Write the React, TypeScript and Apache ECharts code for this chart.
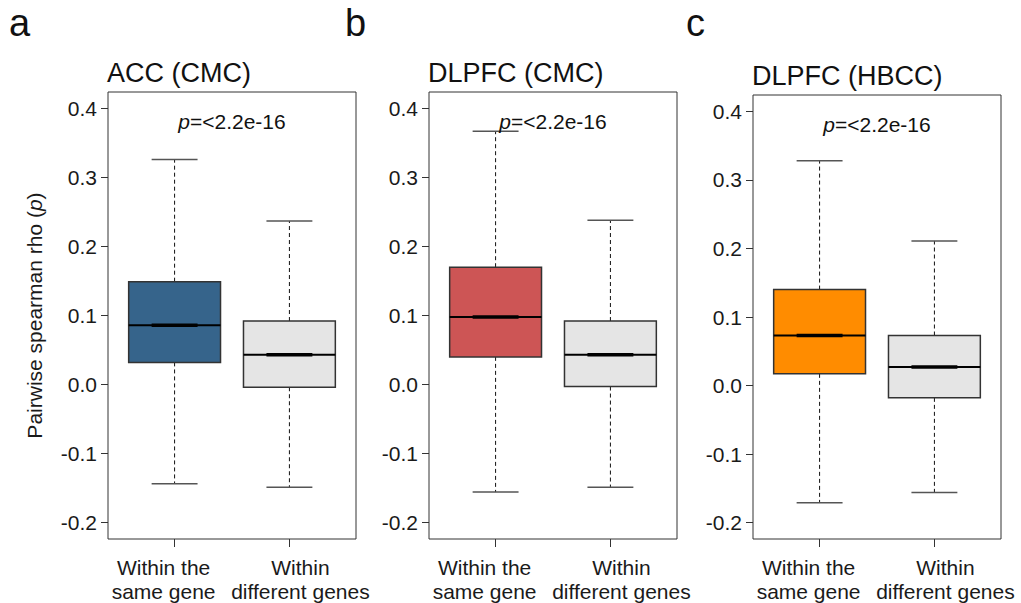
import React, { useEffect, useRef } from "react";
import * as echarts from "echarts";

// ---- data ----
const categories = ["Within the\nsame gene", "Within\ndifferent genes"];
const categoryPositions = [1, 2];
const panelLetters = ["a", "b", "c"];
const panelTitles = ["ACC (CMC)", "DLPFC (CMC)", "DLPFC (HBCC)"];
const pValueRich = "{i|p}=<2.2e-16";
const yTickValues = [-0.2, -0.1, 0.0, 0.1, 0.2, 0.3, 0.4];
const yAxisTitle = "Pairwise spearman rho ({i|p})";
// [lower whisker, Q1, median, Q3, upper whisker]
const accSame = [-0.144, 0.032, 0.086, 0.149, 0.326];
const accDiff = [-0.149, -0.004, 0.043, 0.092, 0.237];
const dlpfcCmcSame = [-0.156, 0.04, 0.098, 0.17, 0.367];
const dlpfcCmcDiff = [-0.149, -0.003, 0.043, 0.092, 0.238];
const dlpfcHbccSame = [-0.171, 0.017, 0.073, 0.14, 0.328];
const dlpfcHbccDiff = [-0.156, -0.018, 0.027, 0.073, 0.211];
const panelStats = [
  [accSame, accDiff],
  [dlpfcCmcSame, dlpfcCmcDiff],
  [dlpfcHbccSame, dlpfcHbccDiff],
];
const sameColors = ["#36648B", "#CD5555", "#FF8C00"];
const diffColor = "#E5E5E5";

// ---- layout ----
const FONT = "'Liberation Sans', Arial, Helvetica, sans-serif";
const grids = [
  { left: 108, top: 92, width: 248, height: 447 },
  { left: 429, top: 92, width: 248, height: 447 },
  { left: 753, top: 95, width: 248, height: 446 },
];
const letterX = [9, 345, 686];
// labels are nudged apart from their ticks so they do not collide
const labelPadding = [
  [0, 22, 0, 0],
  [0, 0, 0, 22],
];
const X_MIN = 0.42;
const X_MAX = 2.58;
const Y_MIN = -0.224;
const Y_MAX = 0.424;

export default function App() {
  const ref = useRef<HTMLDivElement>(null);
  useEffect(() => {
    if (!ref.current) return;
    const chart = echarts.init(ref.current, null, { renderer: "svg" });

    const xAxes: any[] = [];
    const yAxes: any[] = [];
    const series: any[] = [];
    const graphics: any[] = [];

    grids.forEach((g, i) => {
      // one x axis per category so the two long labels are never dropped for overlap
      categoryPositions.forEach((pos, k) => {
        xAxes.push({
          gridIndex: i,
          type: "value",
          position: "bottom",
          min: X_MIN,
          max: X_MAX,
          axisLine: { show: false, onZero: false },
          splitLine: { show: false },
          axisTick: {
            show: true,
            length: 8,
            customValues: [pos],
            lineStyle: { color: "#333", width: 1 },
          },
          axisLabel: {
            customValues: [pos],
            formatter: () => categories[k],
            fontSize: 21,
            lineHeight: 24,
            margin: 16,
            padding: labelPadding[k],
            color: "#1a1a1a",
            fontFamily: FONT,
          },
        });
      });
      yAxes.push({
        gridIndex: i,
        type: "value",
        min: Y_MIN,
        max: Y_MAX,
        axisLine: { show: false, onZero: false },
        splitLine: { show: false },
        axisTick: {
          show: true,
          length: 7,
          customValues: yTickValues,
          lineStyle: { color: "#333", width: 1 },
        },
        axisLabel: {
          customValues: yTickValues,
          formatter: (v: number) => v.toFixed(1),
          fontSize: 21,
          margin: 11,
          color: "#1a1a1a",
          fontFamily: FONT,
        },
        name: i === 0 ? yAxisTitle : "",
        nameLocation: "middle",
        nameGap: 63,
        nameRotate: 90,
        nameTextStyle: {
          fontSize: 21,
          color: "#1a1a1a",
          fontFamily: FONT,
          rich: { i: { fontStyle: "italic", fontSize: 21, fontFamily: FONT, color: "#1a1a1a" } },
        },
      });

      const fills = [sameColors[i], diffColor];
      const data = panelStats[i].map((s, k) => [categoryPositions[k], ...s]);
      series.push({
        type: "custom",
        xAxisIndex: i * 2,
        yAxisIndex: i,
        clip: false,
        encode: { x: 0, y: [1, 2, 3, 4, 5] },
        data,
        renderItem: (params: any, api: any) => {
          const x = api.value(0);
          const lo = api.coord([x, api.value(1)]);
          const q1 = api.coord([x, api.value(2)]);
          const med = api.coord([x, api.value(3)]);
          const q3 = api.coord([x, api.value(4)]);
          const hi = api.coord([x, api.value(5)]);
          const bw = api.size([0.8, 0])[0];
          const cx = lo[0];
          const half = bw / 2;
          const capHalf = bw / 4;
          const fill = fills[params.dataIndex];
          return {
            type: "group",
            children: [
              {
                type: "line",
                shape: { x1: cx, y1: q3[1], x2: cx, y2: hi[1] },
                style: { stroke: "#111", lineWidth: 1, lineDash: [4, 3] },
              },
              {
                type: "line",
                shape: { x1: cx, y1: q1[1], x2: cx, y2: lo[1] },
                style: { stroke: "#111", lineWidth: 1, lineDash: [4, 3] },
              },
              {
                type: "line",
                shape: { x1: cx - capHalf, y1: hi[1], x2: cx + capHalf, y2: hi[1] },
                style: { stroke: "#555", lineWidth: 1.5 },
              },
              {
                type: "line",
                shape: { x1: cx - capHalf, y1: lo[1], x2: cx + capHalf, y2: lo[1] },
                style: { stroke: "#555", lineWidth: 1.5 },
              },
              {
                type: "rect",
                shape: { x: cx - half, y: q3[1], width: bw, height: q1[1] - q3[1] },
                style: { fill, stroke: "#333", lineWidth: 1.5 },
              },
              {
                type: "line",
                shape: { x1: cx - half, y1: med[1], x2: cx + half, y2: med[1] },
                style: { stroke: "#000", lineWidth: 2 },
              },
              {
                type: "line",
                shape: { x1: cx - capHalf, y1: med[1], x2: cx + capHalf, y2: med[1] },
                style: { stroke: "#000", lineWidth: 3.5 },
              },
            ],
          };
        },
      });

      graphics.push({
        type: "text",
        left: g.left - 1,
        top: g.top - 33,
        style: {
          text: panelTitles[i],
          fontSize: 27,
          fontFamily: FONT,
          fill: "#111",
        },
      });
      graphics.push({
        type: "text",
        x: g.left + g.width / 2,
        y: g.top + 29,
        style: {
          text: pValueRich,
          rich: { i: { fontStyle: "italic", fontSize: 21, fontFamily: FONT, fill: "#111" } },
          fontSize: 21,
          fontFamily: FONT,
          fill: "#111",
          align: "center",
          verticalAlign: "middle",
        },
        z: 10,
      });
      graphics.push({
        type: "text",
        x: letterX[i],
        y: 23,
        style: {
          text: panelLetters[i],
          fontSize: 38,
          fontFamily: FONT,
          fill: "#111",
          verticalAlign: "middle",
        },
      });
    });

    chart.setOption({
      animation: false,
      backgroundColor: "#ffffff",
      grid: grids.map((g) => ({
        ...g,
        show: true,
        borderColor: "#333",
        borderWidth: 1,
        backgroundColor: "transparent",
        containLabel: false,
      })),
      xAxis: xAxes,
      yAxis: yAxes,
      series,
      graphic: graphics,
    });
    return () => chart.dispose();
  }, []);
  return (
    <div
      ref={ref}
      style={{ position: "fixed", left: 0, top: 0, width: 1021, height: 603 }}
    />
  );
}
